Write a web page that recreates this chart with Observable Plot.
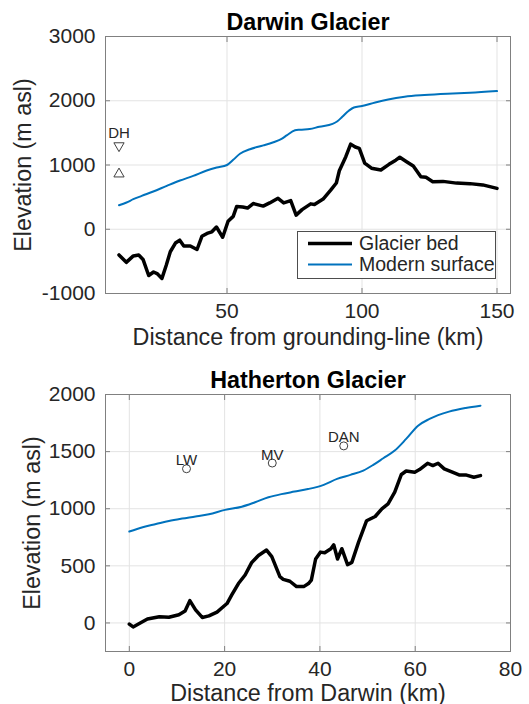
<!DOCTYPE html>
<html>
<head>
<meta charset="utf-8">
<script src="https://cdn.jsdelivr.net/npm/d3@7"></script>
<script src="https://cdn.jsdelivr.net/npm/@observablehq/plot@0.6"></script>
<style>
  body { margin: 0; background: #fff; }
  #chart { position: relative; width: 529px; height: 704px; }
  #chart svg { display: block; }
</style>
</head>
<body>
<div id="chart"></div>
<script>
// ---- Darwin Glacier long profile (distance from grounding line, km) ----
const darwinBedKm = [10, 12.7, 15.3, 17.3, 18.9, 21, 22.8, 24.1, 25.9, 27.5, 29, 30.9, 32.5, 34, 36.4, 38.9, 40.7, 42.6, 44.4, 46.1, 48.4, 50.4, 52.3, 53.6, 55.8, 57.6, 59.7, 63.4, 65.8, 68.9, 71, 73.6, 75.6, 77.8, 81, 82.4, 85.6, 88.4, 90.5, 91.6, 94, 95.8, 97.5, 99, 101, 103.5, 107, 110, 112.5, 114, 116.5, 119, 121.8, 123.7, 126.2, 130, 135, 140, 144.7, 150];
const darwinBedElev = [-400, -515, -415, -400, -470, -720, -665, -690, -765, -560, -350, -215, -170, -260, -260, -315, -110, -65, -40, 35, -125, 125, 200, 355, 345, 330, 400, 360, 410, 482, 410, 445, 220, 305, 395, 385, 470, 610, 720, 910, 1130, 1325, 1280, 1260, 1030, 950, 922, 1010, 1075, 1120, 1052, 985, 818, 808, 740, 745, 718, 710, 690, 636];
const darwinSurfKm = [10, 12.8, 15.3, 18.4, 22.7, 27.7, 32.6, 37.5, 42.5, 46.2, 50, 52.3, 54.8, 58.5, 63.5, 67.2, 70.2, 72.1, 75.2, 77, 80.6, 84.2, 89.1, 90.9, 92.7, 95.1, 97, 100, 104.9, 109.7, 115.8, 123.1, 131.6, 140, 150];
const darwinSurfElev = [374, 416, 468, 519, 587, 675, 758, 831, 914, 961, 1000, 1080, 1175, 1245, 1305, 1355, 1405, 1460, 1540, 1550, 1560, 1596, 1640, 1680, 1751, 1845, 1896, 1917, 1974, 2021, 2062, 2088, 2109, 2124, 2150];

// Darwin Glacier sample site (upper and lower markers)
const darwinSiteName = "DH";
const darwinSiteKm = [10, 10];
const darwinSiteElev = [1300, 860];
const darwinSiteRotate = [180, 0];

// ---- Hatherton Glacier long profile (distance from Darwin, km) ----
const hathBedKm = [0, 0.8, 2.1, 3.8, 6.3, 8.3, 10.4, 11.7, 12.7, 13.9, 15.3, 16.7, 18.4, 20.5, 21.5, 22.9, 24.3, 25.7, 27.1, 28.8, 29.9, 31.6, 32.3, 33.7, 35.1, 36.6, 37.6, 38.2, 39.1, 40.1, 41, 42.3, 42.9, 43.7, 44.6, 45.8, 46.7, 48.1, 49.8, 51.6, 53, 54.3, 55.7, 57.1, 58.1, 59.9, 60.9, 62.6, 63.7, 64.8, 66.1, 67.8, 69.2, 70.6, 72.3, 73.7];
const hathBedElev = [-10, -35, -5, 35, 55, 50, 72, 105, 195, 115, 48, 62, 95, 170, 245, 345, 420, 530, 590, 638, 580, 405, 382, 365, 318, 318, 345, 375, 560, 620, 615, 650, 684, 560, 650, 510, 530, 705, 895, 932, 999, 1043, 1145, 1300, 1330, 1320, 1343, 1398, 1378, 1398, 1349, 1320, 1296, 1296, 1276, 1290];
const hathSurfKm = [0, 2.8, 5.6, 8.3, 11.1, 13.9, 16.7, 20.1, 23.6, 26.4, 29.2, 31.9, 34.7, 37.5, 40.8, 43.6, 46.4, 49.1, 51.2, 53.3, 55.7, 58.1, 60.6, 63, 67.1, 70.6, 73.7];
const hathSurfElev = [800, 838, 866, 893, 914, 932, 952, 990, 1018, 1057, 1100, 1128, 1150, 1172, 1209, 1261, 1296, 1334, 1384, 1442, 1509, 1611, 1727, 1786, 1850, 1882, 1902];

// Hatherton Glacier sample sites
const hathSiteNames = ["LW", "MV", "DAN"];
const hathSiteKm = [12, 30, 45];
const hathSiteElev = [1350, 1400, 1550];

// ---- Axes ----
const darwinXTicks = [50, 100, 150];
const darwinYTicks = [-1000, 0, 1000, 2000, 3000];
const hathXTicks = [0, 20, 40, 60, 80];
const hathYTicks = [0, 500, 1000, 1500, 2000];

const legendLabels = ["Glacier bed", "Modern surface"];

const FONT = '"Liberation Sans", Arial, Helvetica, sans-serif';
const INK = "#262626";
const EDGE = "#808080";
const GRID = "#e3e3e3";
const BLUE = "#0072bd";
const legendColors = ["#000000", BLUE];
const legendWidths = [3.5, 2];

const rows = (xs, ys) => xs.map((x, i) => ({x, y: ys[i]}));
const plain = (d) => String(d);

function panel({height, marginTop, marginBottom, xDomain, yDomain, xTicks, yTicks,
                title, xLabel, xLabelDy, yLabelDx, bed, surface, siteMarks}) {
  const inwardTicks = {stroke: EDGE, tickSize: -5, tickFormat: () => "", label: null};
  return Plot.plot({
    width: 529,
    height,
    marginLeft: 105,
    marginRight: 19,
    marginTop,
    marginBottom,
    style: {fontFamily: FONT, color: INK, background: "white", overflow: "visible"},
    x: {domain: xDomain},
    y: {domain: yDomain},
    marks: [
      Plot.gridX(xTicks, {stroke: GRID, strokeOpacity: 1}),
      Plot.gridY(yTicks, {stroke: GRID, strokeOpacity: 1}),
      Plot.axisX(xTicks, {anchor: "bottom", ...inwardTicks}),
      Plot.axisX(xTicks, {anchor: "top", ...inwardTicks}),
      Plot.axisY(yTicks, {anchor: "left", ...inwardTicks}),
      Plot.axisY(yTicks, {anchor: "right", ...inwardTicks}),
      Plot.axisX(xTicks, {anchor: "bottom", tickSize: 0, tickPadding: 10, fontSize: 21, tickFormat: plain, label: null, fill: INK}),
      Plot.axisY(yTicks, {anchor: "left", tickSize: 0, tickPadding: 10, fontSize: 21, tickFormat: plain, label: null, fill: INK}),
      Plot.frame({stroke: EDGE}),
      Plot.line(surface, {x: "x", y: "y", stroke: BLUE, strokeWidth: 2, curve: "monotone-x"}),
      Plot.line(bed, {x: "x", y: "y", stroke: "black", strokeWidth: 3.5, strokeLinejoin: "round"}),
      ...siteMarks,
      Plot.text([title], {frameAnchor: "top", dy: -6.5, lineAnchor: "bottom", fontSize: 23.3, fontWeight: "bold", fill: "black"}),
      Plot.text([xLabel], {frameAnchor: "bottom", dy: xLabelDy, lineAnchor: "bottom", fontSize: 23.3, fill: INK}),
      Plot.text(["Elevation (m asl)"], {frameAnchor: "left", dx: yLabelDx, rotate: -90, textAnchor: "middle", lineAnchor: "middle", fontSize: 23.3, fill: INK})
    ]
  });
}

const darwinSites = darwinSiteKm.map((x, i) => ({x, y: darwinSiteElev[i], rot: darwinSiteRotate[i]}));
const hathSites = hathSiteKm.map((x, i) => ({x, y: hathSiteElev[i], name: hathSiteNames[i]}));

const darwinPanel = panel({
  height: 350, marginTop: 36, marginBottom: 57,
  xDomain: [5, 155], yDomain: [-1000, 3000],
  xTicks: darwinXTicks, yTicks: darwinYTicks,
  title: "Darwin Glacier",
  xLabel: "Distance from grounding-line (km)", xLabelDy: 51, yLabelDx: -81.5,
  bed: rows(darwinBedKm, darwinBedElev),
  surface: rows(darwinSurfKm, darwinSurfElev),
  siteMarks: [
    Plot.dot(darwinSites, {x: "x", y: "y", symbol: "triangle", rotate: "rot", r: 3.8, stroke: "#404040", strokeWidth: 1, fill: "none"}),
    Plot.text([darwinSites[0]], {x: "x", y: "y", text: () => darwinSiteName, dy: -8, lineAnchor: "bottom", fontSize: 15, fill: INK})
  ]
});

const hathertonPanel = panel({
  height: 354, marginTop: 44, marginBottom: 53,
  xDomain: [-5, 80], yDomain: [-250, 2000],
  xTicks: hathXTicks, yTicks: hathYTicks,
  title: "Hatherton Glacier",
  xLabel: "Distance from Darwin (km)", xLabelDy: 49, yLabelDx: -73,
  bed: rows(hathBedKm, hathBedElev),
  surface: rows(hathSurfKm, hathSurfElev),
  siteMarks: [
    Plot.dot(hathSites, {x: "x", y: "y", r: 4, stroke: "#404040", strokeWidth: 1, fill: "none"}),
    Plot.text(hathSites, {x: "x", y: "y", text: "name", dy: -3.5, lineAnchor: "bottom", fontSize: 15, fill: INK})
  ]
});

const chart = document.getElementById("chart");
chart.append(darwinPanel, hathertonPanel);

// Legend box for the Darwin panel, drawn over its lower-right corner
const legend = d3.create("svg")
  .attr("width", 529).attr("height", 350)
  .style("position", "absolute").style("left", "0px").style("top", "0px")
  .style("pointer-events", "none")
  .style("font-family", FONT);
legend.append("rect")
  .attr("x", 297.5).attr("y", 231.5).attr("width", 198).attr("height", 47)
  .attr("fill", "white").attr("stroke", "#4d4d4d").attr("stroke-width", 1);
const rowY = [243.5, 264.5];
legendLabels.forEach((label, i) => {
  legend.append("line")
    .attr("x1", 308).attr("x2", 352).attr("y1", rowY[i]).attr("y2", rowY[i])
    .attr("stroke", legendColors[i]).attr("stroke-width", legendWidths[i]);
  legend.append("text")
    .attr("x", 359).attr("y", rowY[i]).attr("dy", "0.35em")
    .attr("font-size", 19.5).attr("fill", INK)
    .text(label);
});
chart.append(legend.node());
</script>
</body>
</html>
